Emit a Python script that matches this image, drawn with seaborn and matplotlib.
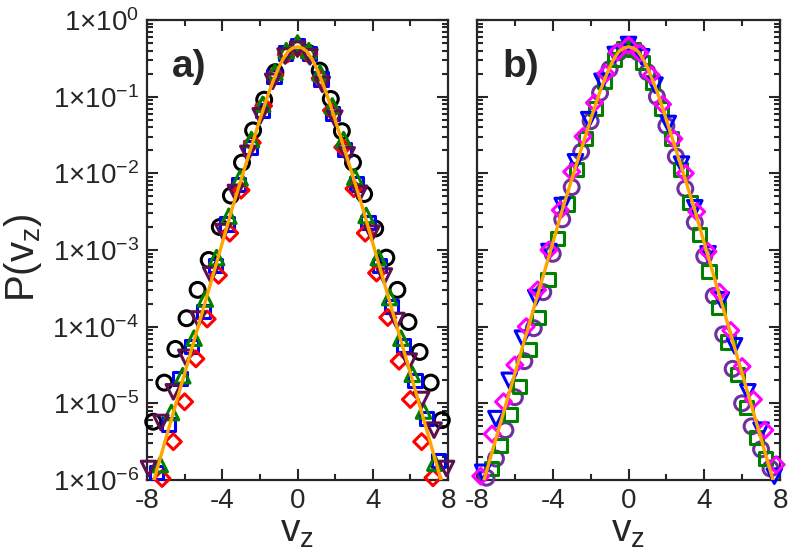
import numpy as np
import matplotlib
matplotlib.use("Agg")
import matplotlib.pyplot as plt
import seaborn as sns
from matplotlib.ticker import FixedLocator, FixedFormatter, LogLocator, MultipleLocator, NullFormatter

sns.set_style("ticks")
plt.rcParams["font.family"] = ["Liberation Sans", "DejaVu Sans"]
plt.rcParams["mathtext.fontset"] = "custom"
plt.rcParams["mathtext.rm"] = "Liberation Sans"
plt.rcParams["mathtext.it"] = "Liberation Sans"
plt.rcParams["mathtext.bf"] = "Liberation Sans:bold"
plt.rcParams["axes.unicode_minus"] = False

# fitted curve, log10 P (same in both panels)
curve_v = [-8.0, -7.5, -7.0, -6.0, -5.0, -4.0, -3.5, -3.0, -2.5, -2.0, -1.75, -1.5, -1.25, -1.0, -0.75, -0.5, -0.25,
           0.0, 0.25, 0.5, 0.75, 1.0, 1.25, 1.5, 1.75, 2.0, 2.5, 3.0, 3.5, 4.0, 5.0, 6.0, 7.0, 7.5, 8.0]
curve_lp = [-6.31, -5.89, -5.46, -4.61, -3.76, -2.91, -2.48, -2.08, -1.69, -1.30, -1.11, -0.93, -0.77, -0.62, -0.50, -0.41, -0.365,
            -0.35, -0.365, -0.41, -0.50, -0.62, -0.77, -0.93, -1.11, -1.30, -1.69, -2.08, -2.48, -2.91, -3.76, -4.61, -5.46, -5.89, -6.31]

# panel a)
a_black_v = [-7.67, -7.08, -6.49, -5.90, -5.31, -4.72, -4.13, -3.54, -2.95, -2.36, -1.77, -1.18, -0.59, 0.0,
             0.59, 1.18, 1.77, 2.36, 2.95, 3.54, 4.13, 4.72, 5.31, 5.90, 6.49, 7.08, 7.67]
a_black_lp = [-5.24, -4.73, -4.29, -3.89, -3.52, -3.13, -2.70, -2.29, -1.86, -1.44, -1.04, -0.68, -0.44, -0.34,
              -0.43, -0.66, -1.03, -1.45, -1.86, -2.27, -2.72, -3.10, -3.52, -3.94, -4.33, -4.73, -5.22]

a_blue_v = [-7.5, -6.875, -6.25, -5.625, -5.0, -4.375, -3.75, -3.125, -2.5, -1.875, -1.25, -0.625, 0.0,
            0.625, 1.25, 1.875, 2.5, 3.125, 3.75, 4.375, 5.0, 5.625, 6.25, 6.875, 7.5]
a_blue_lp = [-5.90, -5.28, -4.68, -4.26, -3.80, -3.20, -2.66, -2.15, -1.66, -1.18, -0.74, -0.43, -0.33,
             -0.44, -0.77, -1.22, -1.69, -2.14, -2.64, -3.20, -3.74, -4.25, -4.70, -5.20, -5.75]

a_red_v = [-7.2, -6.6, -6.0, -5.4, -4.8, -4.2, -3.6, -3.0, -2.4, -1.8, -1.2, -0.6, 0.0,
           0.6, 1.2, 1.8, 2.4, 3.0, 3.6, 4.2, 4.8, 5.4, 6.0, 6.6, 7.2]
a_red_lp = [-5.98, -5.50, -4.98, -4.42, -3.90, -3.33, -2.78, -2.22, -1.60, -1.12, -0.72, -0.45, -0.36,
            -0.45, -0.76, -1.18, -1.66, -2.20, -2.78, -3.30, -3.88, -4.45, -4.95, -5.50, -5.97]

a_green_v = [-7.3, -6.7, -6.1, -5.5, -4.9, -4.3, -3.65, -3.05, -2.45, -1.85, -1.2, -0.6, 0.0,
             0.6, 1.2, 1.85, 2.45, 3.05, 3.65, 4.3, 4.9, 5.5, 6.1, 6.7, 7.3]
a_green_lp = [-5.80, -5.12, -4.64, -4.15, -3.64, -3.10, -2.56, -2.06, -1.56, -1.10, -0.68, -0.40, -0.30,
              -0.40, -0.69, -1.12, -1.56, -2.05, -2.55, -3.10, -3.62, -4.15, -4.62, -5.10, -5.78]

a_purple_v = [-7.92, -7.26, -6.6, -5.94, -5.28, -4.62, -3.96, -3.3, -2.64, -1.98, -1.32, -0.66, 0.0,
              0.66, 1.32, 1.98, 2.64, 3.3, 3.96, 4.62, 5.28, 5.94, 6.6, 7.26, 7.92]
a_purple_lp = [-5.85, -5.25, -4.85, -4.40, -3.90, -3.32, -2.76, -2.25, -1.74, -1.25, -0.80, -0.47, -0.38,
               -0.48, -0.84, -1.28, -1.76, -2.26, -2.78, -3.34, -3.92, -4.45, -4.95, -5.35, -5.85]

# panel b)
b_purple_v = [-7.5, -7.0, -6.5, -6.0, -5.5, -5.0, -4.5, -4.0, -3.5, -3.0, -2.5, -2.0, -1.5, -1.0, -0.5, 0.0,
              0.5, 1.0, 1.5, 2.0, 2.5, 3.0, 3.5, 4.0, 4.5, 5.0, 5.5, 6.0, 6.5, 7.0, 7.5]
b_purple_lp = [-5.97, -5.72, -5.35, -4.92, -4.45, -4.02, -3.55, -3.05, -2.60, -2.18, -1.72, -1.32, -0.95, -0.64, -0.42, -0.35,
               -0.42, -0.68, -1.00, -1.38, -1.78, -2.20, -2.64, -3.08, -3.60, -4.10, -4.55, -5.00, -5.30, -5.60, -5.85]

b_green_v = [-7.25, -6.75, -6.25, -5.75, -5.25, -4.75, -4.25, -3.75, -3.25, -2.75, -2.25, -1.75, -1.25, -0.75, -0.25,
             0.25, 0.75, 1.25, 1.75, 2.25, 2.75, 3.25, 3.75, 4.25, 4.75, 5.25, 5.75, 6.25, 6.75, 7.25]
b_green_lp = [-5.85, -5.55, -5.15, -4.78, -4.30, -3.88, -3.38, -2.85, -2.40, -1.95, -1.55, -1.15, -0.80, -0.52, -0.37,
              -0.38, -0.55, -0.82, -1.15, -1.55, -1.95, -2.38, -2.80, -3.28, -3.75, -4.20, -4.62, -5.05, -5.45, -5.72]

b_blue_v = [-7.7, -7.0, -6.3, -5.6, -4.9, -4.2, -3.5, -2.8, -2.1, -1.4, -0.7, 0.0,
            0.7, 1.4, 2.1, 2.8, 3.5, 4.2, 4.9, 5.6, 6.3, 7.0, 7.7]
b_blue_lp = [-5.90, -5.20, -4.70, -4.15, -3.62, -3.02, -2.42, -1.85, -1.30, -0.80, -0.45, -0.32,
             -0.48, -0.85, -1.35, -1.88, -2.45, -3.05, -3.65, -4.25, -4.85, -5.35, -5.95]

b_magenta_v = [-7.8, -7.2, -6.6, -6.0, -5.4, -4.8, -4.2, -3.6, -3.0, -2.4, -1.8, -1.2, -0.6, 0.0,
               0.6, 1.2, 1.8, 2.4, 3.0, 3.6, 4.2, 4.8, 5.4, 6.0, 6.6, 7.2, 7.8]
b_magenta_lp = [-5.95, -5.40, -4.98, -4.50, -4.00, -3.52, -3.00, -2.48, -1.98, -1.52, -1.08, -0.70, -0.42, -0.33,
                -0.43, -0.72, -1.10, -1.55, -2.00, -2.50, -3.02, -3.55, -4.05, -4.52, -4.95, -5.35, -5.80]

ytick_labels = ["1×10$^{-6}$", "1×10$^{-5}$", "1×10$^{-4}$", "1×10$^{-3}$",
                "1×10$^{-2}$", "1×10$^{-1}$", "1×10$^{0}$"]

series_a = [
    (a_black_v, a_black_lp, "o", "black", 115),
    (a_blue_v, a_blue_lp, "s", "#0000ff", 90),
    (a_red_v, a_red_lp, "D", "#ff0000", 65),
    (a_green_v, a_green_lp, "^", "#008000", 110),
    (a_purple_v, a_purple_lp, "v", "#5c1050", 110),
]
series_b = [
    (b_purple_v, b_purple_lp, "o", "#7030a0", 115),
    (b_green_v, b_green_lp, "s", "#008000", 90),
    (b_blue_v, b_blue_lp, "v", "#0000ff", 110),
    (b_magenta_v, b_magenta_lp, "D", "#ff00ff", 65),
]

fig = plt.figure(figsize=(7.89, 5.53), dpi=100)
ax_a = fig.add_axes([147 / 789, 73 / 553, 301 / 789, 460 / 553])
ax_b = fig.add_axes([477 / 789, 73 / 553, 303 / 789, 460 / 553])

for ax, series, tag in [(ax_a, series_a, "a)"), (ax_b, series_b, "b)")]:
    for v, lp, m, c, s in series:
        sns.scatterplot(x=v, y=10 ** np.array(lp), ax=ax, marker=m, s=s, facecolor="none",
                        edgecolor=c, linewidth=2.2, clip_on=False, zorder=3)
    sns.lineplot(x=curve_v, y=10 ** np.array(curve_lp), ax=ax, color="#ffa500", linewidth=2.4,
                 estimator=None, sort=False, zorder=4)
    ax.set_yscale("log")
    ax.set_xlim(-8, 8)
    ax.set_ylim(1e-6, 1)
    ax.xaxis.set_major_locator(FixedLocator([-8, -4, 0, 4, 8]))
    ax.xaxis.set_minor_locator(MultipleLocator(2))
    ax.yaxis.set_major_locator(FixedLocator([1e-6, 1e-5, 1e-4, 1e-3, 1e-2, 1e-1, 1]))
    ax.yaxis.set_minor_locator(LogLocator(base=10, subs=np.arange(2, 10), numticks=20))
    ax.yaxis.set_minor_formatter(NullFormatter())
    ax.tick_params(which="both", direction="in", top=True, right=True, width=1.5, labelsize=20)
    ax.tick_params(which="major", length=8, pad=6)
    ax.tick_params(which="minor", length=4.5)
    for sp in ax.spines.values():
        sp.set_linewidth(1.6)
    ax.set_xlabel("v$_{z}$", fontsize=28, labelpad=0)
    ax.set_ylabel("")
    ax.text(0.083, 0.898, tag, transform=ax.transAxes, fontsize=28, fontweight="bold",
            ha="left", va="center")

ax_a.yaxis.set_major_formatter(FixedFormatter(ytick_labels))
ax_b.yaxis.set_major_formatter(NullFormatter())
ax_b.tick_params(axis="y", labelleft=False)

fig.text(0.029, 0.535, "P(v$_{z}$)", rotation=90, fontsize=29, ha="center", va="center")

fig.savefig("out.png", dpi=100)
